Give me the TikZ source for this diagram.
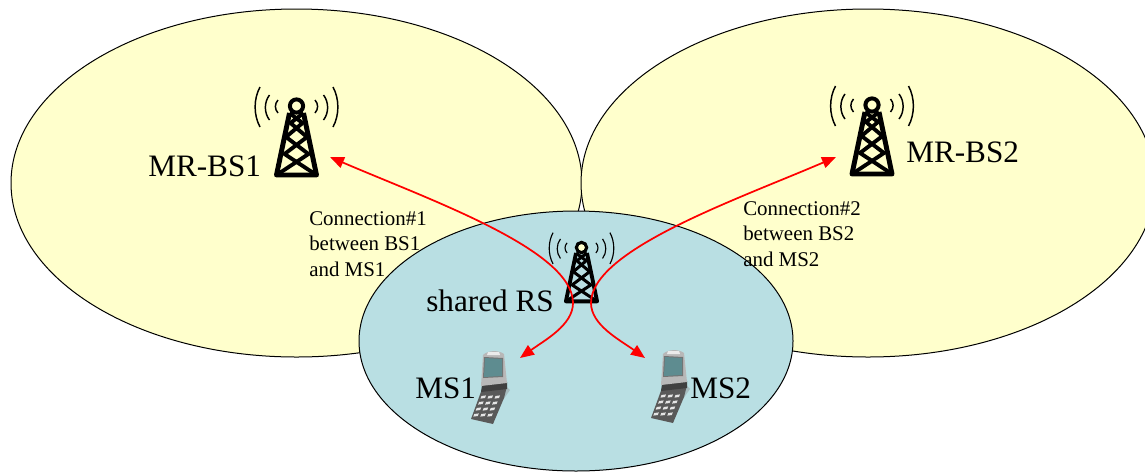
\documentclass[tikz,border=0pt]{standalone}
\usepackage{fontspec}
\setmainfont{Liberation Serif}
\usetikzlibrary{arrows.meta,shapes.geometric}
\definecolor{cellyellow}{HTML}{FFFFCC}
\definecolor{cellblue}{HTML}{B9DFE3}
\definecolor{screenteal}{HTML}{5E8C90}
\tikzset{
  cell/.style={draw=black,line width=0.75pt,ellipse,inner sep=0pt,outer sep=0pt},
  biglabel/.style={font=\fontsize{23.4}{26}\selectfont,inner sep=0pt,anchor=base west},
  smalllabel/.style={font=\fontsize{15.7}{19.2}\selectfont,inner sep=0pt,anchor=north west,align=left},
  link/.style={draw=red,line width=1.3pt,{Triangle[length=10.5pt,width=8.5pt,fill=red]}-{Triangle[length=10.5pt,width=8.5pt,fill=red]}},
}
% #1 x, #2 y (centre of the lamp), #3 scale
\newcommand{\mytower}[3]{%
  \begin{scope}[shift={(#1,#2)},x=#3*0.75pt,y=-#3*0.75pt]
    \draw[line width=#3*3.7pt,line join=round] (-7,7) -- (-20,69) -- (20,69) -- (7,7);
    \draw[line width=#3*2.9pt]
      (-7,7) -- (6,17) -- (-10.5,31) -- (12,48) -- (-20,69)
      (7,7) -- (-6,17) -- (10.5,31) -- (-12,48) -- (20,69);
    \draw[line width=#3*3pt,fill=cellyellow] (0,0) circle[radius=6.6];
    \draw[line width=#3*1.1pt]
      (-18.5,-6) .. controls (-22,-2) and (-22,3) .. (-18.5,7)
      (18.5,-6) .. controls (22,-2) and (22,3) .. (18.5,7)
      (-27,-11) .. controls (-32.5,-4) and (-32.5,7) .. (-27,14)
      (27,-11) .. controls (32.5,-4) and (32.5,7) .. (27,14)
      (-36.5,-19) .. controls (-43,-7) and (-43,9) .. (-36.5,21)
      (36.5,-19) .. controls (43,-7) and (43,9) .. (36.5,21);
  \end{scope}}
% #1 x, #2 y (top-left reference of the phone)
\newcommand{\myphone}[2]{%
  \begin{scope}[shift={(#1,#2)}]
    \fill[black!45,opacity=.4] (36,36) -- (40,40) -- (33,50) -- cycle;
    \fill[black!65] (12,39) -- (37,36) -- (34,48) -- (23,74) -- (1,69) -- cycle;
    \fill[black!75] (12,35) -- (37,32) -- (37,39) -- (11,42) -- cycle;
    \fill[black!28] (13,5) .. controls (18,0) and (29,0) .. (34,4) -- (37,33) -- (11,36) -- cycle;
    \fill[black!8] (18,2) -- (29,2) -- (30,5) -- (17,5) -- cycle;
    \fill[black!55] (14,7) -- (33,8) -- (33,27) -- (13,28) -- cycle;
    \fill[screenteal] (15,8) -- (32,9) -- (32,26) -- (14,27) -- cycle;
    \foreach \r in {0,1,2,3}{
      \foreach \c in {0,1,2}{
        \fill[black!10] ({11.5+\c*7-\r*2.4},{46+\r*6}) -- ++(4.5,-.6) -- ++(-1,2.6) -- ++(-4.5,.6) -- cycle;
      }
    }
  \end{scope}}
\begin{document}
\begin{tikzpicture}[x=0.75pt,y=-0.75pt]
  \useasboundingbox (0,0) rectangle (1145,472);
  \clip (0,0) rectangle (1145,472);
  \fill[white] (0,0) rectangle (1145,472);
  \node[cell,fill=cellyellow,minimum width=428.25pt,minimum height=261pt] (cellA) at (296.5,183) {};
  \node[cell,fill=cellyellow,minimum width=430.5pt,minimum height=261pt] (cellB) at (868,183) {};
  \node[cell,fill=cellblue,minimum width=325.5pt,minimum height=195pt] (cellC) at (576,341) {};

  \mytower{296.5}{106}{1}
  \mytower{872}{105}{1}
  \mytower{581.5}{247.5}{0.78}
  \myphone{470}{350}
  \myphone{650}{349}

  \coordinate (bsA) at (330,157);
  \coordinate (bsB) at (836,157);
  \coordinate (rsA) at (573,303);
  \coordinate (rsB) at (591,303);
  \coordinate (msA) at (520,358);
  \coordinate (msB) at (645,358);
  \draw[link] (bsA) .. controls (430,200) and (573,250) .. (rsA) .. controls (573,325) and (545,340) .. (msA);
  \draw[link] (bsB) .. controls (736,200) and (591,250) .. (rsB) .. controls (591,325) and (620,340) .. (msB);

  \node[biglabel] (labA) at (148,176) {MR-BS1};
  \node[biglabel] (labB) at (906,162) {MR-BS2};
  \node[biglabel] (labC) at (426,311) {shared RS};
  \node[biglabel] (labD) at (415,398) {MS1};
  \node[biglabel] (labE) at (690,398) {MS2};
  \node[smalllabel] (txtA) at (309,211) {Connection\#1\\between BS1\\and MS1};
  \node[smalllabel] (txtB) at (743,201) {Connection\#2\\between BS2\\and MS2};
\end{tikzpicture}
\end{document}
